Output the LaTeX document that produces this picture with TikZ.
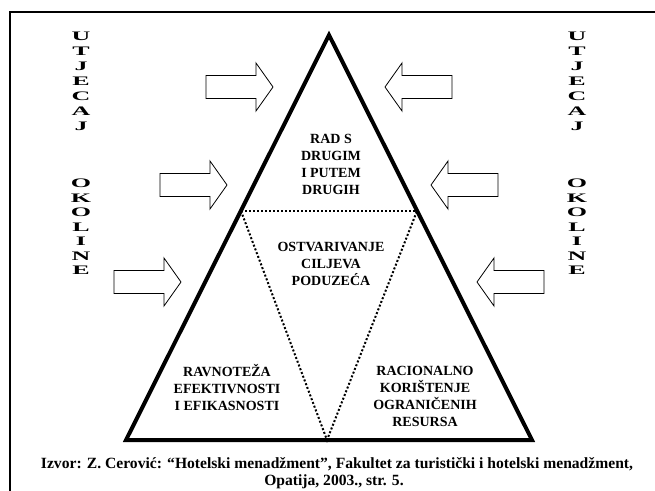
\documentclass[tikz,border=0pt]{standalone}
\usepackage{fontspec}
\usepackage{graphicx}
\setmainfont{Liberation Serif}
\newcommand\wideltr[1]{\scalebox{2.0}[1]{#1}}
\begin{document}
\begin{tikzpicture}[x=1pt,y=-1pt,
  frameline/.style={line width=2pt},
  tri/.style={line width=4pt, line join=miter},
  dotline/.style={line width=2pt, dash pattern=on 2pt off 2pt},
  blockarrow/.style={draw, line width=0.8pt, line join=miter},
  lbl/.style={font=\bfseries\fontsize{14}{17}\selectfont, align=center, inner sep=0pt},
  vlbl/.style={font=\bfseries\fontsize{13}{15}\selectfont, align=center, inner sep=0pt},
  captext/.style={font=\bfseries\fontsize{15.6}{18}\selectfont, align=center, inner sep=0pt}]
\useasboundingbox (0,0) rectangle (655,490);
\clip (0,0) rectangle (655,490);
% frame
\draw[frameline] (10,491) -- (10,12) -- (656,12);
% triangle
\coordinate (A) at (329,35);
\coordinate (B) at (126,440);
\coordinate (C) at (532,440);
\coordinate (D) at (241,211);
\coordinate (E) at (417,211);
\coordinate (F) at (327,440);
\draw[tri] (A) -- (B) -- (C) -- cycle;
\draw[dotline] (D) -- (E);
\draw[dotline] (D) -- (F) -- (E);
% arrows
\foreach \tx/\cy in {273/87, 227/185, 181/282}{
  \draw[blockarrow, shift={(\tx,\cy)}] (-67,-11.5) -- (-17,-11.5) -- (-17,-24) -- (0,0) -- (-17,24) -- (-17,11.5) -- (-67,11.5) -- cycle;
}
\foreach \tx/\cy in {385/87, 431/185, 477/282}{
  \draw[blockarrow, shift={(\tx,\cy)}] (67,-11.5) -- (17,-11.5) -- (17,-24) -- (0,0) -- (17,24) -- (17,11.5) -- (67,11.5) -- cycle;
}
% labels
\node[lbl] (top) at (331,164.5) {RAD S\\DRUGIM\\I PUTEM\\DRUGIH};
\node[lbl] (mid) at (331,264) {OSTVARIVANJE\\CILJEVA\\PODUZEĆA};
\node[lbl] (bl) at (227,387) {RAVNOTEŽA\\EFEKTIVNOSTI\\I EFIKASNOSTI};
\node[lbl] (br) at (425,396) {RACIONALNO\\KORIŠTENJE\\OGRANIČENIH\\RESURSA};
% vertical words
\node[vlbl] (lu) at (81,81) {\wideltr{U}\\\wideltr{T}\\\wideltr{J}\\\wideltr{E}\\\wideltr{C}\\\wideltr{A}\\\wideltr{J}};
\node[vlbl, font=\bfseries\fontsize{13}{14.5}\selectfont] (lo) at (81,227) {\wideltr{O}\\\wideltr{K}\\\wideltr{O}\\\wideltr{L}\\\wideltr{I}\\\wideltr{N}\\\wideltr{E}};
\node[vlbl] (ru) at (577,81) {\wideltr{U}\\\wideltr{T}\\\wideltr{J}\\\wideltr{E}\\\wideltr{C}\\\wideltr{A}\\\wideltr{J}};
\node[vlbl, font=\bfseries\fontsize{13}{14.5}\selectfont] (ro) at (577,227) {\wideltr{O}\\\wideltr{K}\\\wideltr{O}\\\wideltr{L}\\\wideltr{I}\\\wideltr{N}\\\wideltr{E}};
% caption
\node[captext] (cap1) at (337,464) {Izvor: Z. Cerović: “Hotelski menadžment”, Fakultet za turistički i hotelski menadžment,};
\node[captext] (cap2) at (334,482) {Opatija, 2003., str. 5.};
\end{tikzpicture}
\end{document}
